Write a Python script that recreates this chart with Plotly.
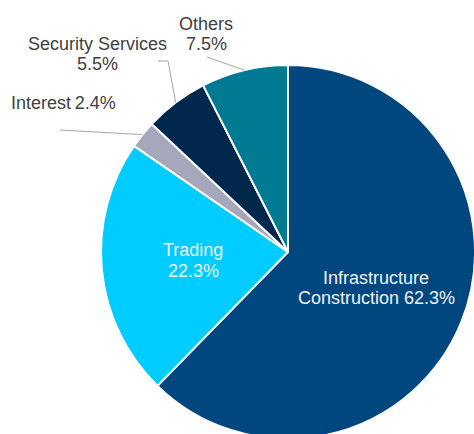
import math
import plotly.graph_objects as go

# ---- data ----
labels = ["Infrastructure Construction", "Trading", "Interest", "Security Services", "Others"]
values = [62.3, 22.3, 2.4, 5.5, 7.5]
colors = ["#00477F", "#00CCFF", "#A5A8BA", "#00284C", "#007A93"]

# ---- layout geometry (pixels) ----
W, H = 476, 440
CX, CY, R = 288, 252, 187


def px(x):
    return x / W


def py(y):
    return (H - y) / H


fig = go.Figure(go.Pie(
    labels=labels,
    values=values,
    sort=False,
    direction="clockwise",
    rotation=0,
    textinfo="none",
    hoverinfo="label+percent",
    marker=dict(colors=colors, line=dict(color="white", width=2)),
    domain=dict(x=[px(CX - R), px(CX + R)], y=[py(CY + R), py(CY - R)]),
    showlegend=False,
))

# slice mid-angles (clockwise from 12 o'clock) -> edge points for leader lines
total = sum(values)
edge = {}
cum = 0.0
for lab, v in zip(labels, values):
    mid = (cum + v / 2) / total * 2 * math.pi
    edge[lab] = (CX + R * math.sin(mid), CY - R * math.cos(mid))
    cum += v

pct = {lab: f"{v:.1f}%" for lab, v in zip(labels, values)}

FONT = "Liberation Sans, Arial, sans-serif"
dark = "#404040"
light = "#F2F2F2"
annotations = []


def add_text(text, x, y, color, size=18, xanchor="center"):
    annotations.append(dict(
        text=text, x=px(x), y=py(y), xref="paper", yref="paper",
        xanchor=xanchor, yanchor="middle", showarrow=False,
        font=dict(family=FONT, size=size, color=color),
    ))


# outside labels
add_text("Others", 206, 24, dark)
add_text(pct["Others"], 206, 44, dark)
add_text("Security Services", 97, 44, dark)
add_text(pct["Security Services"], 97, 64, dark)
add_text("Interest\u2009" + pct["Interest"], 9, 103, dark, xanchor="left")

# inside labels
add_text("Trading", 193, 250, light)
add_text(pct["Trading"], 193, 271, light)
add_text("Infrastructure", 376, 278, light)
add_text("Construction " + pct["Infrastructure Construction"], 376, 298, light)

# leader lines
shapes = []
leaders = {
    "Others": [(207, 57)],
    "Security Services": [(158, 61), (168, 61)],
    "Interest": [(60, 130)],
}
for lab, pts in leaders.items():
    allpts = pts + [edge[lab]]
    path = "M " + " L ".join(f"{px(x)},{py(y)}" for x, y in allpts)
    shapes.append(dict(type="path", path=path, xref="paper", yref="paper",
                       line=dict(color="#A6A6A6", width=1)))

fig.update_layout(
    width=W, height=H,
    margin=dict(l=0, r=0, t=0, b=0),
    paper_bgcolor="white",
    plot_bgcolor="white",
    annotations=annotations,
    shapes=shapes,
)

fig.write_html(
    "out.html",
    post_script="document.body.style.overflow='hidden';document.documentElement.style.overflow='hidden';",
)
